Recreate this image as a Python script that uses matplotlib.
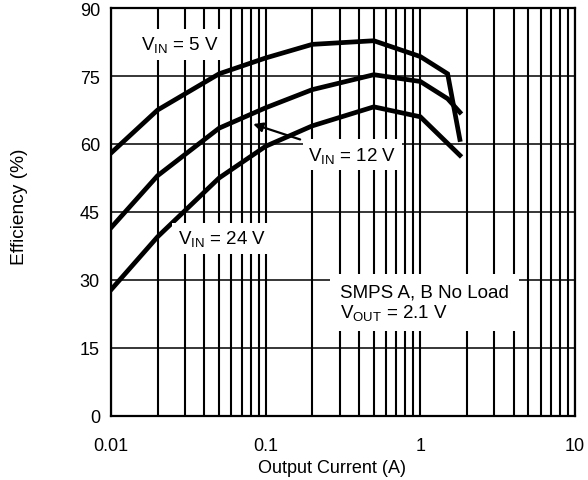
import matplotlib
matplotlib.use("Agg")
import matplotlib.pyplot as plt
import numpy as np

plt.rcParams['font.family'] = ['Liberation Sans', 'DejaVu Sans']
plt.rcParams['mathtext.fontset'] = 'custom'
plt.rcParams['mathtext.rm'] = 'Liberation Sans'
plt.rcParams['mathtext.it'] = 'Liberation Sans'

# Efficiency vs output current for three input voltages
current_5v = [0.01, 0.02, 0.05, 0.1, 0.2, 0.5, 1.0, 1.5, 1.8]
eff_5v = [58.0, 67.5, 75.5, 79.0, 82.0, 82.8, 79.3, 75.5, 61.0]

current_12v = [0.01, 0.02, 0.05, 0.1, 0.2, 0.5, 1.0, 1.5, 1.8]
eff_12v = [41.5, 53.0, 63.5, 68.0, 72.0, 75.3, 73.8, 70.0, 67.0]

current_24v = [0.01, 0.02, 0.05, 0.1, 0.2, 0.5, 1.0, 1.8]
eff_24v = [27.8, 39.5, 52.5, 59.5, 64.0, 68.2, 66.0, 57.5]

y_ticks = [0, 15, 30, 45, 60, 75, 90]
x_ticks = [0.01, 0.1, 1, 10]
x_tick_labels = ['0.01', '0.1', '1', '10']

fig = plt.figure(figsize=(5.88, 4.81), dpi=100)
ax = fig.add_axes([0.1888, 0.1337, 0.7892, 0.8473])

ax.set_xscale('log')
ax.set_xlim(0.01, 10)
ax.set_ylim(0, 90)

# grid: every decade subdivision and every 15 %
for dec in [0.01, 0.1, 1]:
    for m in range(2, 10):
        ax.axvline(dec * m, color='black', lw=1.5, zorder=1)
for xv in x_ticks:
    ax.axvline(xv, color='black', lw=1.5, zorder=1)
for yv in y_ticks:
    ax.axhline(yv, color='black', lw=1.1, zorder=1)

for c, e in [(current_5v, eff_5v), (current_12v, eff_12v), (current_24v, eff_24v)]:
    ax.plot(c, e, color='black', lw=3.4, solid_joinstyle='miter', zorder=3)

ax.set_xticks(x_ticks)
ax.set_xticklabels(x_tick_labels)
ax.xaxis.set_minor_locator(matplotlib.ticker.NullLocator())
ax.set_yticks(y_ticks)
ax.tick_params(length=0, labelsize=13)
ax.tick_params(axis='x', pad=15)
ax.tick_params(axis='y', pad=8)
for s in ax.spines.values():
    s.set_linewidth(1.6)
    s.set_zorder(4)

box = dict(facecolor='white', edgecolor='none', pad=4)
ax.text(0.028, 82, r'$\mathregular{V_{IN}}$ = 5 V', ha='center', va='center',
        fontsize=13.5, bbox=box, zorder=5)
ax.text(0.363, 57.6, r'$\mathregular{V_{IN}}$ = 12 V', ha='center', va='center',
        fontsize=13.5, bbox=box, zorder=5)
ax.text(0.0523, 39.2, r'$\mathregular{V_{IN}}$ = 24 V', ha='center', va='center',
        fontsize=13.5, bbox=box, zorder=5)
ax.text(0.303, 25, 'SMPS A, B No Load\n' + r'$\mathregular{V_{OUT}}$ = 2.1 V',
        ha='left', va='center', fontsize=13.5, linespacing=1.1,
        bbox=dict(facecolor='white', edgecolor='none', pad=7), zorder=5)

ax.annotate('', xy=(0.083, 64.4), xytext=(0.167, 61.0),
            arrowprops=dict(arrowstyle='-|>', color='black', lw=1.6,
                            mutation_scale=14, shrinkA=0, shrinkB=0),
            zorder=6)

fig.text(0.565, 0.025, 'Output Current (A)', ha='center', va='center', fontsize=13)
fig.text(0.034, 0.570, 'Efficiency (%)', rotation=90, ha='center', va='center',
         fontsize=13.8)

fig.savefig('out.png', dpi=100)
